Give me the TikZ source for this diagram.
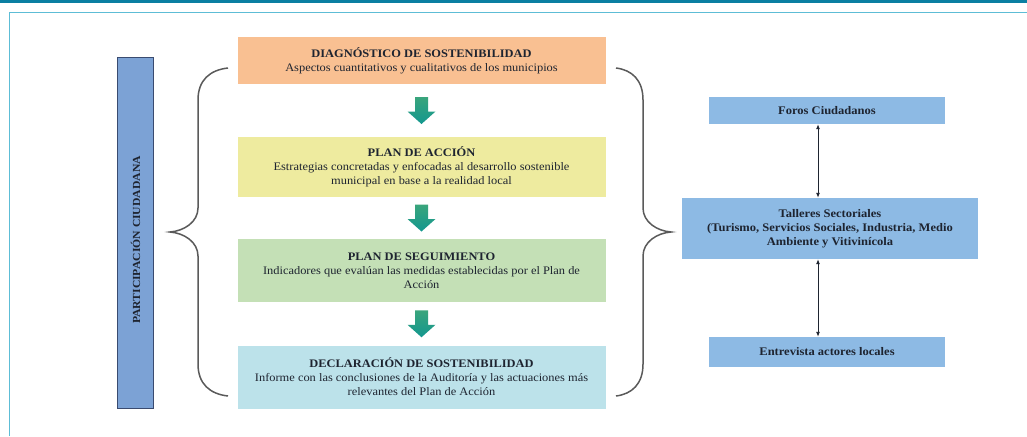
\documentclass[tikz,border=0pt]{standalone}
\usepackage{fontspec}
\setmainfont{Liberation Serif}[FakeStretch=1.08]
\usetikzlibrary{arrows.meta,calc}
\definecolor{topline}{HTML}{0B7FA2}
\definecolor{frameline}{HTML}{5DBDD6}
\definecolor{orangebox}{HTML}{F9C092}
\definecolor{yellowbox}{HTML}{EEEB9F}
\definecolor{greenbox}{HTML}{C4E0B6}
\definecolor{cyanbox}{HTML}{BCE2EA}
\definecolor{rightbox}{HTML}{8DBAE4}
\definecolor{partbox}{HTML}{7CA2D5}
\definecolor{partborder}{HTML}{3A4B70}
\definecolor{txt}{HTML}{1E2430}
\definecolor{bracegray}{HTML}{5A5A5A}
\definecolor{arrowtop}{HTML}{3AA57C}
\definecolor{arrowbot}{HTML}{13978F}
\tikzset{
  mainbox/.style={minimum width=368pt, inner sep=0pt, align=center, text=txt,
    font=\fontsize{11.5}{14}\selectfont},
  sidebox/.style={fill=rightbox, inner sep=0pt, align=center, text=txt,
    font=\bfseries\fontsize{11.6}{14}\selectfont},
  flowarrow/.style={top color=arrowtop, bottom color=arrowbot, draw=none},
  bracestyle/.style={draw=bracegray, line width=1.5pt},
  link/.style={draw=txt, line width=0.9pt, {Latex[length=5pt,width=4pt]}-{Latex[length=5pt,width=4pt]}},
  blockarrow/.pic={\path[flowarrow] (-6.5,-13.5) -- (6.5,-13.5) -- (6.5,1) -- (14,1) -- (0,13.5) -- (-14,1) -- (-6.5,1) -- cycle;}
}
\begin{document}
\begin{tikzpicture}[x=1pt,y=-1pt]
\useasboundingbox (0,0) rectangle (1027,436);
\fill[white] (0,0) rectangle (1027,436);
% frame
\fill[topline] (0,0) rectangle (1027,3);
\draw[frameline, line width=1pt] (9,436) -- (9,12.5) -- (1027,12.5);
% participacion
\node[draw=partborder, fill=partbox, line width=1pt, minimum width=36pt, minimum height=350pt, inner sep=0pt] (part) at (135.5,233) {};
\node[rotate=90, text=txt, font=\bfseries\fontsize{10.8}{12}\selectfont] (parttext) at ([yshift=-7pt]part.center) {PARTICIPACIÓN CIUDADANA};
% main boxes
\node[mainbox, fill=orangebox, minimum height=47pt] (diag) at (421.5,60.5)
  {\textbf{DIAGNÓSTICO DE SOSTENIBILIDAD}\\Aspectos cuantitativos y cualitativos de los municipios};
\node[mainbox, fill=yellowbox, minimum height=60pt] (accion) at (421.5,167)
  {\textbf{PLAN DE ACCIÓN}\\Estrategias concretadas y enfocadas al desarrollo sostenible\\municipal en base a la realidad local};
\node[mainbox, fill=greenbox, minimum height=63pt] (segui) at (421.5,270.5)
  {\textbf{PLAN DE SEGUIMIENTO}\\Indicadores que evalúan las medidas establecidas por el Plan de\\Acción};
\node[mainbox, fill=cyanbox, minimum height=63pt] (decl) at (421.5,377)
  {\textbf{DECLARACIÓN DE SOSTENIBILIDAD}\\Informe con las conclusiones de la Auditoría y las actuaciones más\\relevantes del Plan de Acción};
% flow arrows
\coordinate (a1) at ($(diag.south)!0.5!(accion.north)$);
\coordinate (a2) at ($(accion.south)!0.5!(segui.north)$);
\coordinate (a3) at ($(segui.south)!0.5!(decl.north)$);
\pic at (a1) {blockarrow};
\pic at (a2) {blockarrow};
\pic at (a3) {blockarrow};
% braces
\coordinate (lt) at (228,68);
\coordinate (ltip) at (170,232);
\coordinate (lb) at (228,396);
\draw[bracestyle] (lt) .. controls (210,70) and (198,80) .. (198,100)
  -- (198,208) .. controls (198,222) and (184,231) .. (ltip)
  .. controls (184,233) and (198,242) .. (198,256)
  -- (198,364) .. controls (198,384) and (210,394) .. (lb);
\coordinate (rt) at (616,68);
\coordinate (rtip) at (671,232);
\coordinate (rb) at (616,396);
\draw[bracestyle] (rt) .. controls (632,70) and (643,80) .. (643,100)
  -- (643,208) .. controls (643,222) and (657,231) .. (rtip)
  .. controls (657,233) and (643,242) .. (643,256)
  -- (643,364) .. controls (643,384) and (632,394) .. (rb);
% right boxes
\node[sidebox, minimum width=236pt, minimum height=27pt] (foros) at (827,110.5) {Foros Ciudadanos};
\node[sidebox, minimum width=296pt, minimum height=61pt] (talleres) at (830,228.5)
  {Talleres Sectoriales\\(Turismo, Servicios Sociales, Industria, Medio\\Ambiente y Vitivinícola};
\node[sidebox, minimum width=236pt, minimum height=30pt] (entre) at (827,352) {Entrevista actores locales};
\draw[link] ([xshift=-9pt]foros.south) -- ([xshift=-9pt]foros.south |- talleres.north);
\draw[link] ([xshift=-9pt]entre.north |- talleres.south) -- ([xshift=-9pt]entre.north);
\end{tikzpicture}
\end{document}
